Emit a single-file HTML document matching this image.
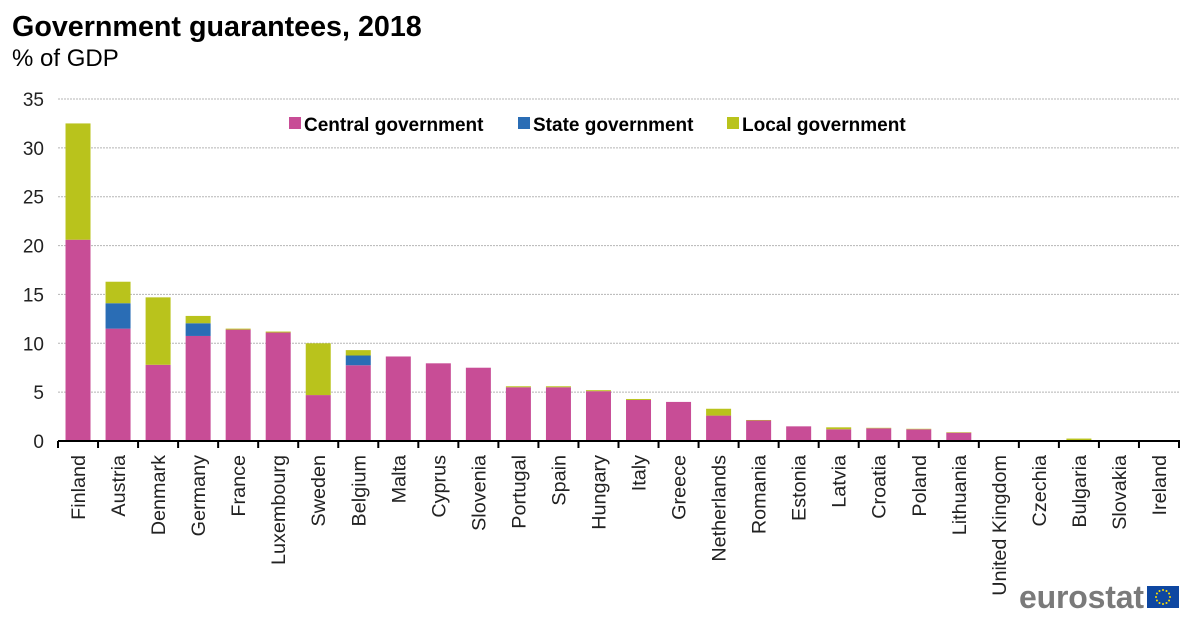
<!DOCTYPE html>
<html><head><meta charset="utf-8"><style>
body{margin:0;background:#fff;}
svg{display:block;font-family:"Liberation Sans",Arial,sans-serif;}
</style></head><body>
<svg id="chart" width="1200" height="619" viewBox="0 0 1200 619">
<text x="12" y="36" font-size="28.7" font-weight="bold" fill="#000">Government guarantees, 2018</text>
<text x="12" y="66" font-size="24" fill="#000">% of GDP</text>
<g id="grid"></g>
<g id="bars"></g>
<g id="axes"></g>
<g>
<g><rect x="289" y="117" width="12" height="12" fill="#c84d96"/><text x="304" y="131" font-size="19" font-weight="bold">Central government</text></g>
<g><rect x="518" y="117" width="12" height="12" fill="#2a6db5"/><text x="533" y="131" font-size="19" font-weight="bold">State government</text></g>
<g><rect x="727" y="117" width="12" height="12" fill="#b9c31c"/><text x="742" y="131" font-size="19" font-weight="bold">Local government</text></g>
</g>
<g>
<text x="1019" y="608" font-size="32" font-weight="bold" fill="#7a7a7a" letter-spacing="-1" textLength="124">eurostat</text>
<rect x="1147" y="586" width="32" height="22" fill="#0e47a1"/>
<g fill="#ffdd00" id="stars"></g>
</g>
</svg>
<script>
const categories=["Finland","Austria","Denmark","Germany","France","Luxembourg","Sweden","Belgium","Malta","Cyprus","Slovenia","Portugal","Spain","Hungary","Italy","Greece","Netherlands","Romania","Estonia","Latvia","Croatia","Poland","Lithuania","United Kingdom","Czechia","Bulgaria","Slovakia","Ireland"];
const centralGov=[20.6,11.5,7.8,10.75,11.4,11.1,4.7,7.75,8.65,7.95,7.5,5.5,5.5,5.1,4.2,4.0,2.6,2.1,1.5,1.2,1.3,1.2,0.85,0.1,0,0.1,0,0];
const stateGov=[0,2.6,0,1.3,0,0,0,1.0,0,0,0,0,0,0,0,0,0,0,0,0,0,0,0,0,0,0,0,0];
const localGov=[11.9,2.2,6.9,0.75,0.1,0.1,5.3,0.55,0,0,0,0.1,0.1,0.1,0.1,0,0.7,0.05,0,0.2,0.05,0.05,0.05,0,0.1,0.15,0,0];
const yTicks=[0,5,10,15,20,25,30,35];
const NS="http://www.w3.org/2000/svg";
const x0=58,x1=1179,y0=441,yTop=99,yMax=35;
const band=(x1-x0)/categories.length, bw=25;
const xc=i=>x0+band*(i+0.5);
const y=v=>y0-(v/yMax)*(y0-yTop);
function mk(tag,attrs,parent){const e=document.createElementNS(NS,tag);for(const k in attrs)e.setAttribute(k,attrs[k]);parent.appendChild(e);return e;}
const grid=document.getElementById('grid'),bars=document.getElementById('bars'),axes=document.getElementById('axes');
yTicks.forEach(t=>{
  if(t>0){const l=mk('line',{x1:x0,x2:x1,y1:y(t),y2:y(t),stroke:'#b5b5b5','stroke-width':1,'stroke-dasharray':'2,1'},grid);
  
  }
  const tx=mk('text',{x:44,y:y(t)+7,'font-size':19,'text-anchor':'end',fill:'#222'},axes);
  tx.textContent=t;
  
  
});
const series=[[centralGov,'#c84d96','central'],[stateGov,'#2a6db5','state'],[localGov,'#b9c31c','local']];
categories.forEach((c,i)=>{
  let base=0;
  series.forEach(([arr,col,nm])=>{
    const v=arr[i]; if(v<=0)return;
    const r=mk('rect',{x:xc(i)-bw/2,y:y(base+v),width:bw,height:y(base)-y(base+v),fill:col},bars);
    
    
    base+=v;
  });
  const tk=mk('line',{x1:x0+band*(i+1),x2:x0+band*(i+1),y1:y0,y2:y0+7,stroke:'#000','stroke-width':2},axes);
  
  
  const lb=mk('text',{transform:`translate(${xc(i)+7},455) rotate(-90)`,'font-size':19.8,'text-anchor':'end',fill:'#222'},axes);
  lb.textContent=c;
  
  
});
const t0=mk('line',{x1:x0,x2:x0,y1:y0,y2:y0+7,stroke:'#000','stroke-width':2},axes);


const ax=mk('line',{x1:x0,x2:x1+1,y1:y0,y2:y0,stroke:'#000','stroke-width':2},axes);


const st=document.getElementById('stars');
for(let k=0;k<12;k++){const a=k*Math.PI/6;mk('circle',{cx:1163+7*Math.cos(a),cy:597+7*Math.sin(a),r:1},st);}
</script>
</body></html>
